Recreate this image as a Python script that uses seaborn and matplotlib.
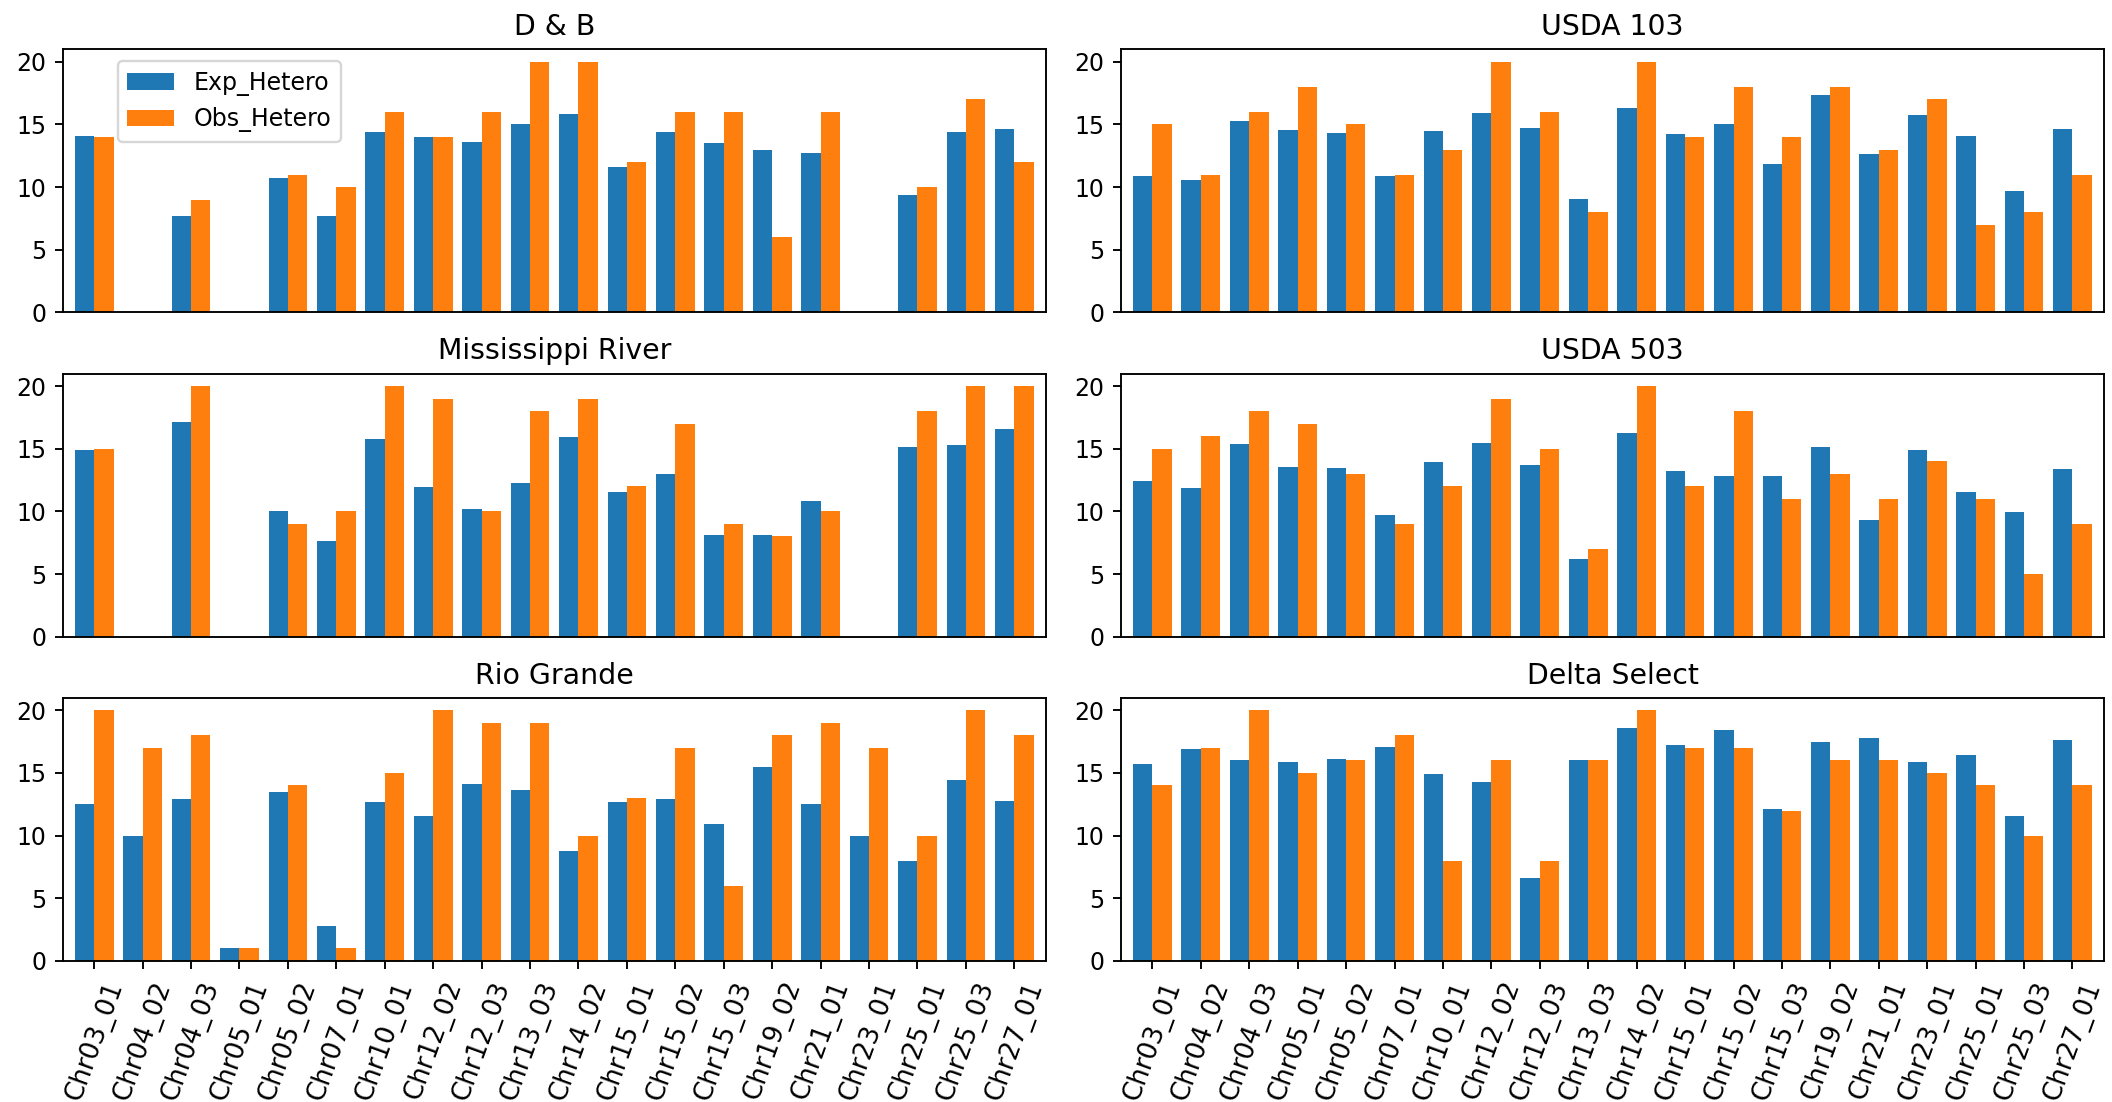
import numpy as np
import pandas as pd
import matplotlib
matplotlib.use("Agg")
import matplotlib.pyplot as plt
import seaborn as sns

markers = ["Chr03_01", "Chr04_02", "Chr04_03", "Chr05_01", "Chr05_02", "Chr07_01",
           "Chr10_01", "Chr12_02", "Chr12_03", "Chr13_03", "Chr14_02", "Chr15_01",
           "Chr15_02", "Chr15_03", "Chr19_02", "Chr21_01", "Chr23_01", "Chr25_01",
           "Chr25_03", "Chr27_01"]
nan = np.nan

# Expected / observed heterozygosity per marker, one pair of lists per population
db_exp = [14.1, nan, 7.7, nan, 10.7, 7.7, 14.4, 14.0, 13.6, 15.05, 15.85, 11.6,
          14.4, 13.5, 13.0, 12.7, nan, 9.4, 14.4, 14.65]
db_obs = [14, nan, 9, nan, 11, 10, 16, 14, 16, 20, 20, 12, 16, 16, 6, 16, nan, 10, 17, 12]

usda103_exp = [10.9, 10.55, 15.3, 14.55, 14.3, 10.9, 14.5, 15.9, 14.7, 9.05, 16.3,
               14.2, 15.05, 11.85, 17.35, 12.65, 15.75, 14.1, 9.7, 14.65]
usda103_obs = [15, 11, 16, 18, 15, 11, 13, 20, 16, 8, 20, 14, 18, 14, 18, 13, 17, 7, 8, 11]

miss_exp = [14.9, nan, 17.1, nan, 10.05, 7.65, 15.8, 11.95, 10.2, 12.25, 15.95, 11.55,
            13.0, 8.1, 8.1, 10.8, nan, 15.15, 15.3, 16.55]
miss_obs = [15, nan, 20, nan, 9, 10, 20, 19, 10, 18, 19, 12, 17, 9, 8, 10, nan, 18, 20, 20]

usda503_exp = [12.4, 11.85, 15.4, 13.55, 13.45, 9.7, 13.9, 15.45, 13.7, 6.2, 16.25,
               13.25, 12.85, 12.85, 15.1, 9.3, 14.9, 11.55, 9.95, 13.4]
usda503_obs = [15, 16, 18, 17, 13, 9, 12, 19, 15, 7, 20, 12, 18, 11, 13, 11, 14, 11, 5, 9]

rio_exp = [12.55, 10.0, 12.95, 1.0, 13.45, 2.8, 12.7, 11.6, 14.15, 13.6, 8.75, 12.65,
           12.95, 10.95, 15.5, 12.55, 10.0, 7.95, 14.4, 12.8]
rio_obs = [20, 17, 18, 1, 14, 1, 15, 20, 19, 19, 10, 13, 17, 6, 18, 19, 17, 10, 20, 18]

delta_exp = [15.75, 16.95, 16.0, 15.9, 16.15, 17.1, 14.95, 14.25, 6.6, 16.0, 18.6,
             17.25, 18.4, 12.15, 17.5, 17.75, 15.85, 16.45, 11.6, 17.65]
delta_obs = [14, 17, 20, 15, 16, 18, 8, 16, 8, 16, 20, 17, 17, 12, 16, 16, 15, 14, 10, 14]

populations = ["D & B", "USDA 103", "Mississippi River", "USDA 503", "Rio Grande", "Delta Select"]
exp_values = [db_exp, usda103_exp, miss_exp, usda503_exp, rio_exp, delta_exp]
obs_values = [db_obs, usda103_obs, miss_obs, usda503_obs, rio_obs, delta_obs]
series = ["Exp_Hetero", "Obs_Hetero"]
colors = ["#1f77b4", "#ff7f0e"]

fig, axes = plt.subplots(3, 2, figsize=(2112 / 170, 1102 / 170), dpi=170)
fig.subplots_adjust(left=0.0297, right=0.9962, top=0.9553, bottom=0.128,
                    wspace=0.0764, hspace=0.232)

for i, (pop, ev, ov) in enumerate(zip(populations, exp_values, obs_values)):
    ax = axes.flat[i]
    df = pd.DataFrame({
        "marker": markers * 2,
        "value": list(ev) + list(ov),
        "series": [series[0]] * len(markers) + [series[1]] * len(markers),
    }).dropna()
    sns.barplot(data=df, x="marker", y="value", hue="series", order=markers,
                hue_order=series, palette=colors, saturation=1, width=0.8,
                errorbar=None, linewidth=0, ax=ax)
    ax.set_title(pop, fontsize=12)
    ax.set_xlabel("")
    ax.set_ylabel("")
    ax.set_xlim(-0.65, len(markers) - 0.35)
    ax.set_ylim(0, 21)
    ax.set_yticks([0, 5, 10, 15, 20])
    for s in ax.spines.values():
        s.set_visible(True)
        s.set_color("black")
        s.set_linewidth(0.8)
    if i < 4:
        ax.tick_params(axis="x", bottom=False, labelbottom=False)
    else:
        ax.tick_params(axis="x", labelrotation=70, labelsize=11)
    handles, labels = ax.get_legend_handles_labels()
    if ax.get_legend() is not None:
        ax.get_legend().remove()
    if i == 0:
        ax.legend(handles, labels, loc="upper left", bbox_to_anchor=(0.044, 1.0),
                  fontsize=10)

fig.savefig("out.png", dpi=170)
